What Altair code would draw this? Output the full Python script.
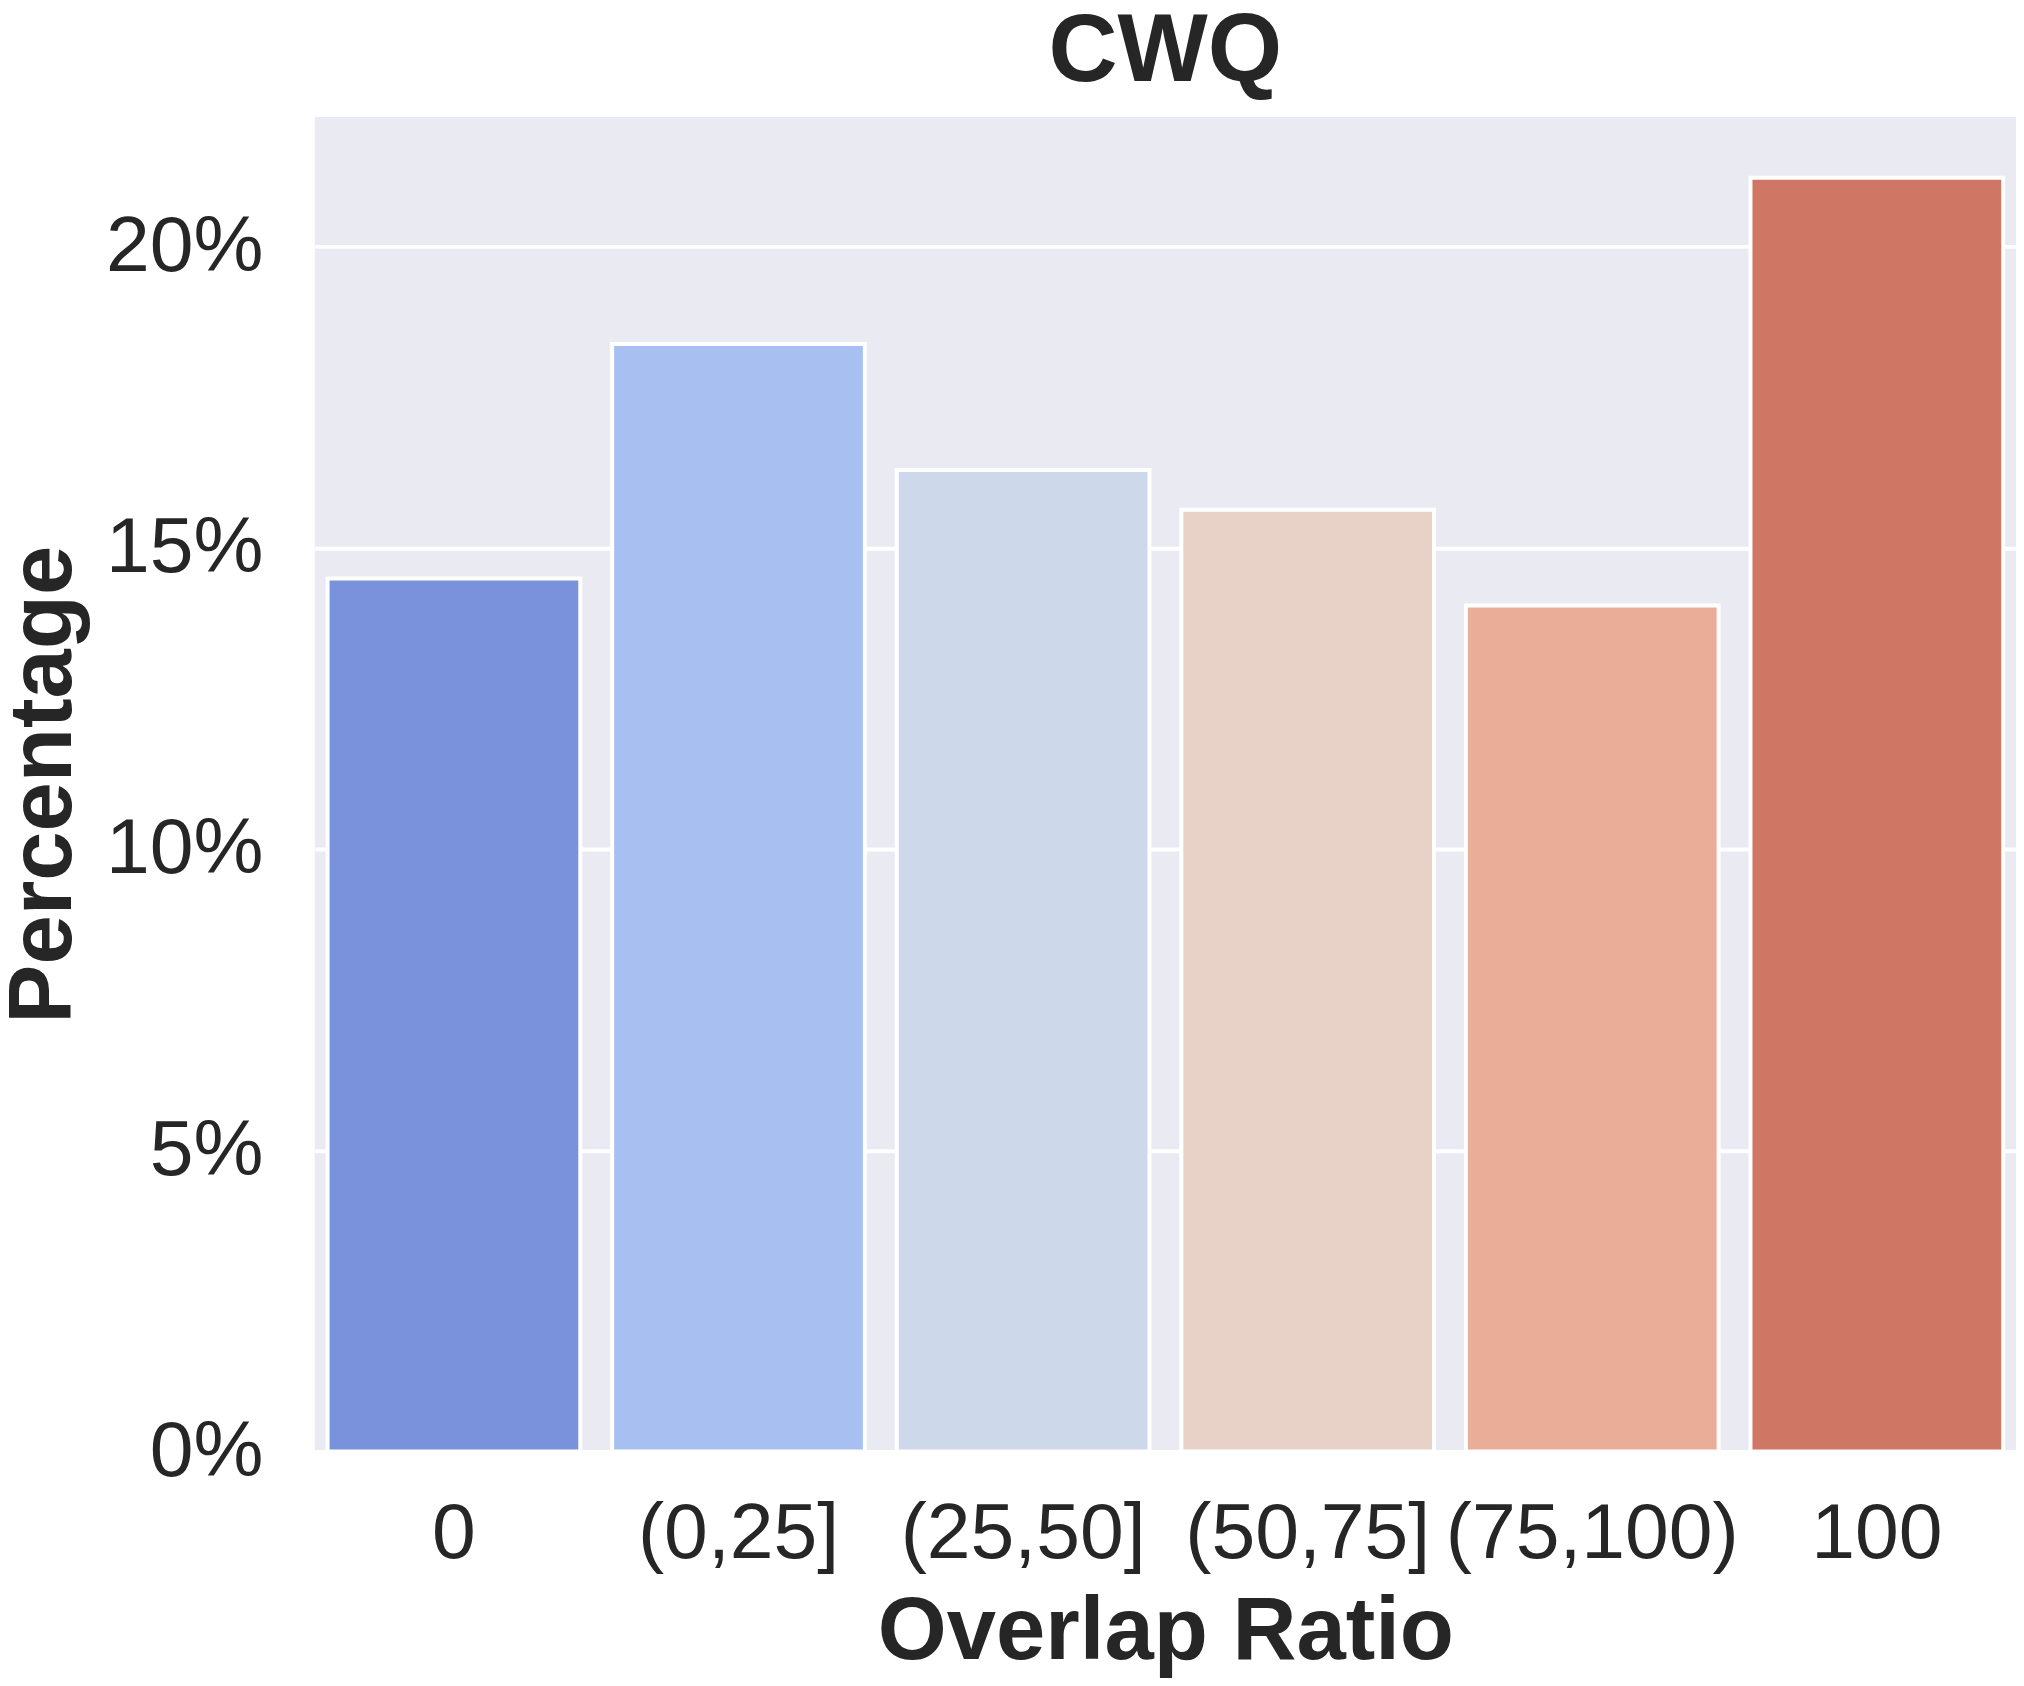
import altair as alt
import pandas as pd

categories = ["0", "(0,25]", "(25,50]", "(50,75]", "(75,100)", "100"]
percentages = [14.49, 18.38, 16.29, 15.63, 14.04, 21.14]
bar_colors = ["#7992DB", "#A7C0F1", "#CDD8EA", "#E8D2C7", "#EAAE98", "#D07664"]
y_ticks = [0, 5, 10, 15, 20]

df = pd.DataFrame({"ratio": categories, "pct": percentages})

FONT = "Liberation Sans"
TXT = "#262626"

chart = (
    alt.Chart(df)
    .mark_bar(stroke="white", strokeWidth=4)
    .encode(
        x=alt.X(
            "ratio:N",
            sort=categories,
            scale=alt.Scale(paddingInner=0.112, paddingOuter=0.045),
            axis=alt.Axis(
                title="Overlap Ratio",
                labelAngle=0,
                labelFontSize=79,
                labelPadding=44,
                labelLimit=0,
                labelOverlap=False,
                labelColor=TXT,
                labelFont=FONT,
                titleFont=FONT,
                titleFontSize=89,
                titleFontWeight="bold",
                titleColor=TXT,
                titlePadding=16,
                ticks=False,
                domain=False,
                grid=False,
            ),
        ),
        y=alt.Y(
            "pct:Q",
            scale=alt.Scale(domain=[0, 22.15], nice=False),
            axis=alt.Axis(
                title="Percentage",
                values=y_ticks,
                labelExpr="datum.value + '%'",
                labelFontSize=79,
                labelPadding=52,
                labelColor=TXT,
                labelFont=FONT,
                titleFont=FONT,
                titleFontSize=89,
                titleFontWeight="bold",
                titleColor=TXT,
                titlePadding=26,
                ticks=False,
                domain=False,
                grid=True,
                gridColor="white",
                gridWidth=4,
                gridOpacity=1,
            ),
        ),
        color=alt.Color(
            "ratio:N",
            sort=categories,
            scale=alt.Scale(domain=categories, range=bar_colors),
            legend=None,
        ),
    )
    .properties(
        width=1708,
        height=1340,
        autosize=alt.AutoSizeParams(type="none"),
        padding={"left": 308, "top": 106, "right": 0, "bottom": 224},
        title=alt.TitleParams(
            "CWQ",
            fontSize=96,
            fontWeight="bold",
            font=FONT,
            color=TXT,
            anchor="middle",
            offset=16,
        ),
    )
    .configure_view(fill="#EAEAF2", strokeWidth=0)
)

chart.save("out.html", embed_options={"renderer": "svg", "actions": False})
